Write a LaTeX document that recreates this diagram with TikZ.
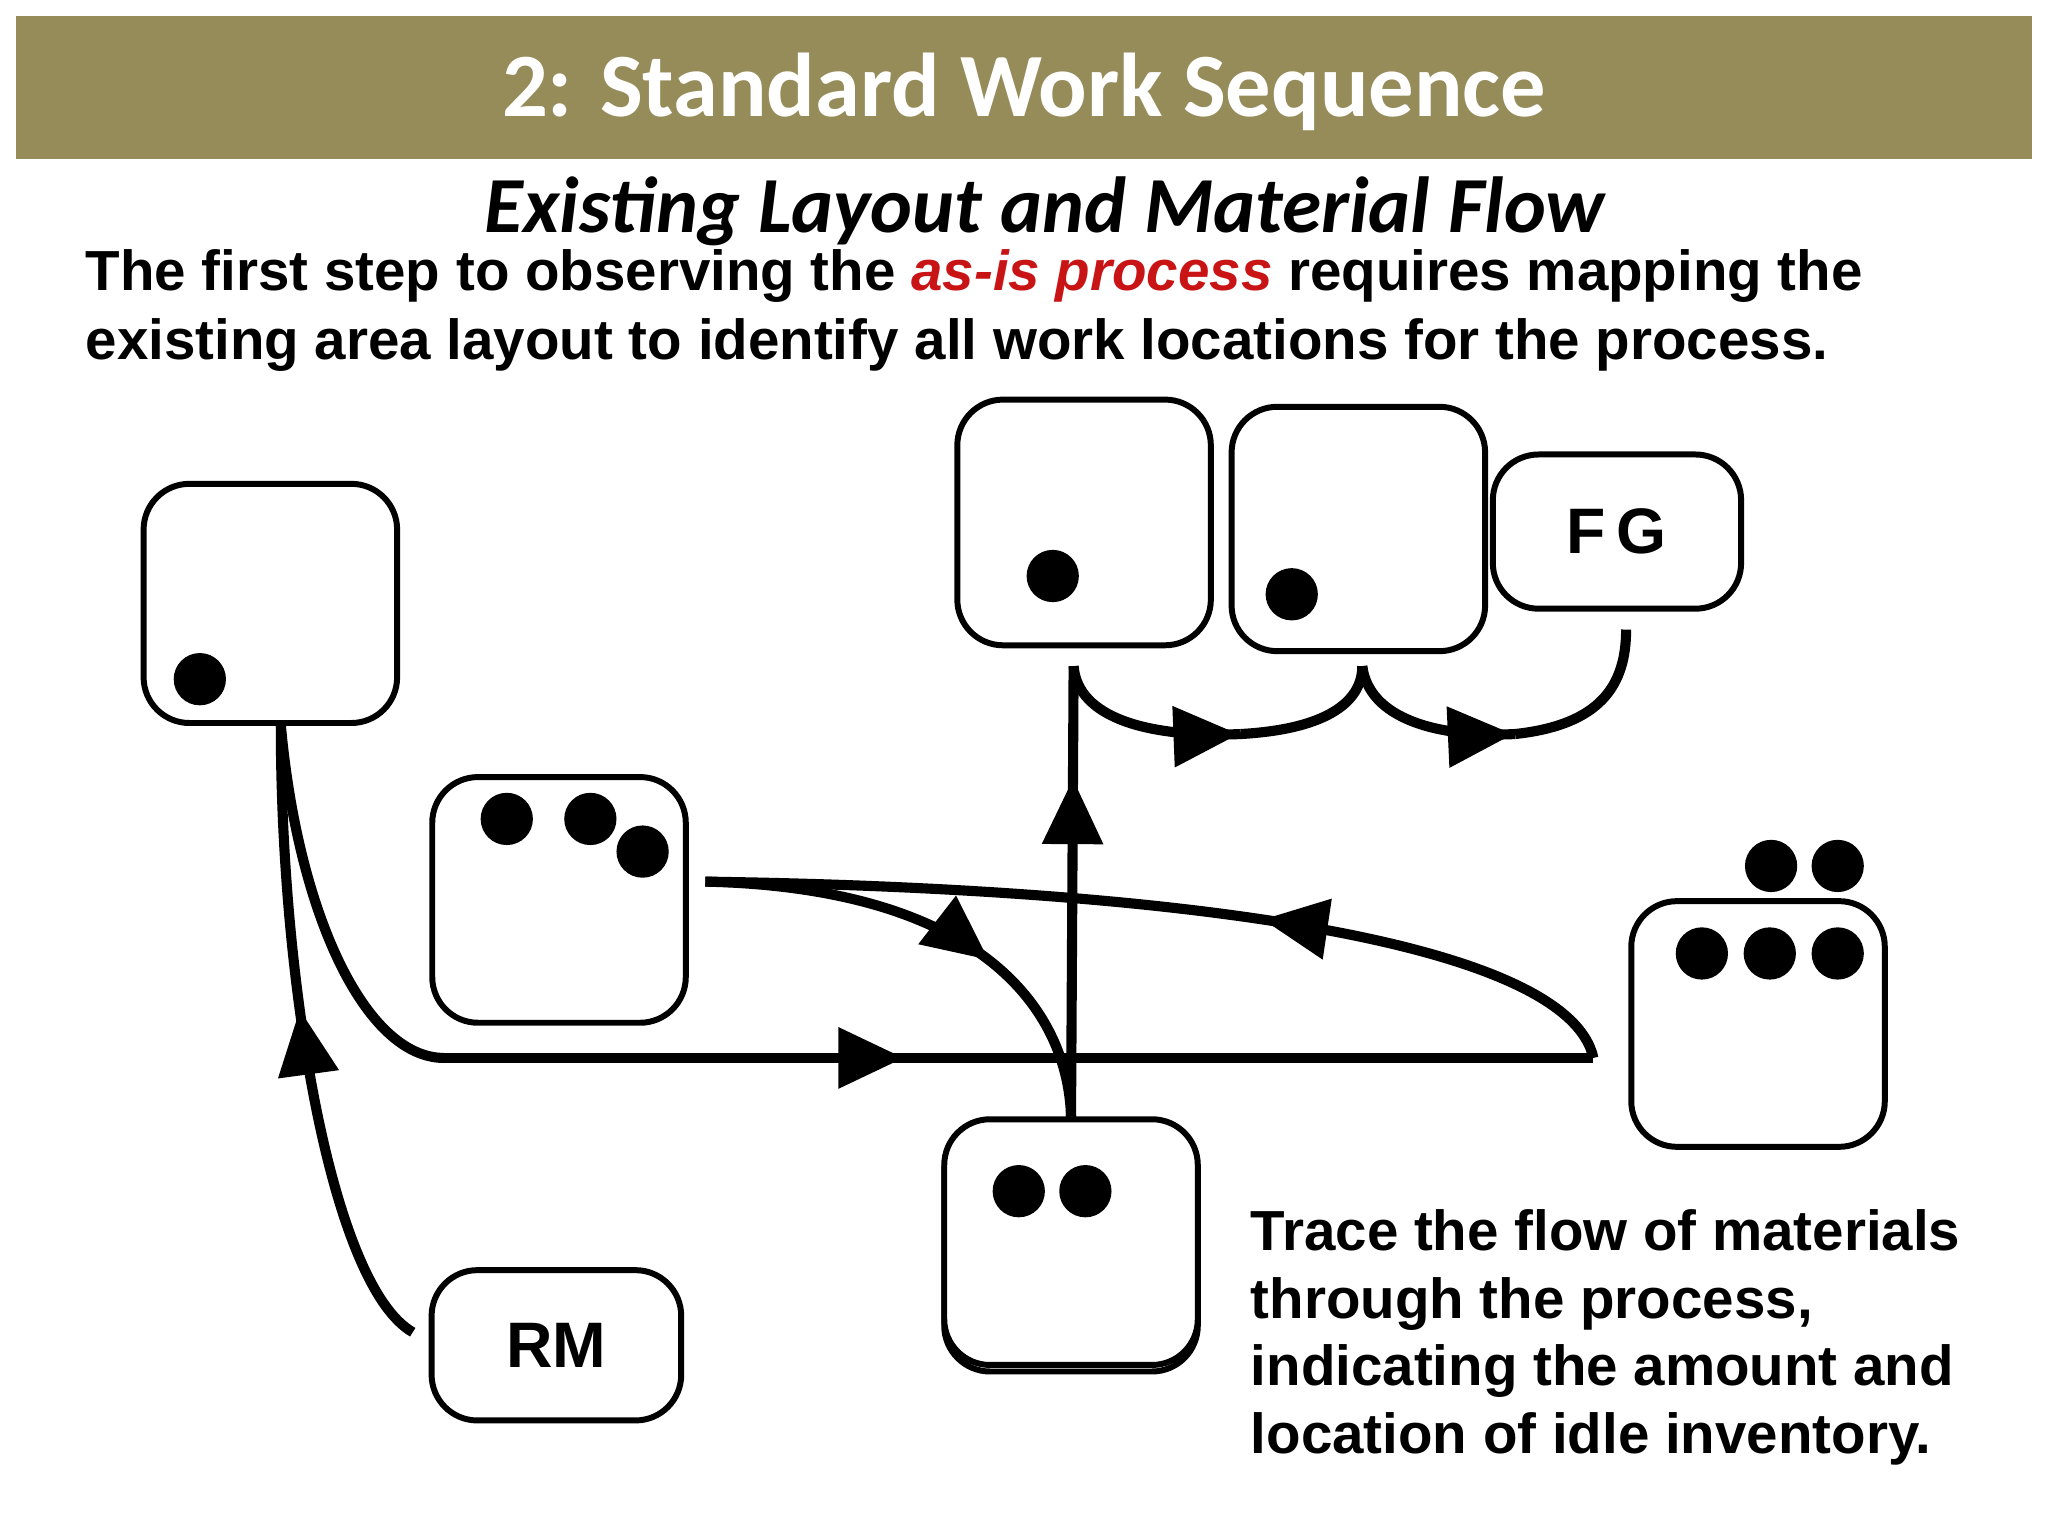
\documentclass[tikz,border=0pt]{standalone}
\usepackage{fontspec}
\setmainfont{Liberation Sans}
\newfontfamily\titlefont{Carlito}
\usetikzlibrary{arrows.meta,decorations.markings}
\definecolor{banner}{RGB}{150,140,90}
\definecolor{asred}{RGB}{200,20,20}
\begin{document}
\begin{tikzpicture}[x=0.01cm,y=-0.01cm,
  box/.style={draw,line width=1.3pt,rounded corners=0.35cm,fill=white,inner sep=0pt},
  dot/.style={circle,fill=black,minimum size=0.4cm,inner sep=0pt},
  flow/.style={line width=2.2pt},
  mk/.style={postaction={decorate,decoration={markings,
    mark=at position #1 with {\arrow{Triangle[length=0.5cm,width=0.45cm]}}}}}]
\useasboundingbox (0,0) rectangle (1568,1176);
% banner and texts
\fill[banner] (12,12) rectangle (1556,122);
\node[text=white,font=\titlefont\bfseries\fontsize{19.7}{22}\selectfont] (title) at (784,70) {2: Standard Work Sequence};
\node[font=\titlefont\bfseries\itshape\fontsize{17.3}{20}\selectfont] (sub) at (800,162) {Existing Layout and Material Flow};
\node[anchor=north west,align=left,inner sep=0pt,font=\bfseries\fontsize{12.3}{15.1}\selectfont] (intro) at (65,190)
 {The first step to observing the \textcolor{asred}{\itshape as-is process} requires mapping the\\
  existing area layout to identify all work locations for the process.};
\node[anchor=north west,align=left,inner sep=0pt,font=\bfseries\fontsize{12.3}{14.8}\selectfont] (note) at (957,925)
 {Trace the flow of materials\\through the process,\\indicating the amount and\\location of idle inventory.};
% boxes
\node[box,minimum width=1.94cm,minimum height=1.83cm] (A) at (207,462) {};
\node[box,minimum width=1.94cm,minimum height=1.88cm] (B) at (428,689) {};
\node[box,minimum width=1.94cm,minimum height=1.88cm] (C) at (830,400) {};
\node[box,minimum width=1.94cm,minimum height=1.87cm] (D) at (1040,405) {};
\node[box,minimum width=1.90cm,minimum height=1.18cm,font=\bfseries\fontsize{14}{16}\selectfont] (FG) at (1238,407) {\raisebox{-0.5ex}{F\,G}};
\node[box,minimum width=1.94cm,minimum height=1.88cm] (E) at (1346,784) {};
\node[box,minimum width=1.94cm,minimum height=1.88cm] (F2) at (820,956) {};
\node[box,minimum width=1.94cm,minimum height=1.88cm] (F) at (820,951) {};
\node[box,minimum width=1.91cm,minimum height=1.15cm,font=\bfseries\fontsize{14}{16}\selectfont] (RM) at (426,1030) {\raisebox{-0.3ex}{RM}};
% inventory dots
\node[dot] (a1) at (153,520) {};
\node[dot] (b1) at (388,627) {};
\node[dot] (b2) at (452,627) {};
\node[dot] (b3) at (492,652) {};
\node[dot] (c1) at (806,441) {};
\node[dot] (d1) at (989,455) {};
\node[dot] (e1) at (1356,663) {};
\node[dot] (e2) at (1407,663) {};
\node[dot] (e3) at (1303,730) {};
\node[dot] (e4) at (1355,730) {};
\node[dot] (e5) at (1407,730) {};
\node[dot] (f1) at (780,912) {};
\node[dot] (f2) at (831,912) {};
% flow points
\coordinate (rmL) at (316,1020);
\coordinate (aB) at (215,555);
\coordinate (L) at (340,810);
\coordinate (R) at (1220,810);
\coordinate (bR) at (540,675);
\coordinate (fT) at (820,855);
\coordinate (cB) at (822,510);
\coordinate (m1) at (950,562);
\coordinate (dB) at (1043,510);
\coordinate (m2) at (1160,562);
\coordinate (fgB) at (1245,482);
% connectors
\draw[flow,mk=0.55] (rmL) .. controls (255,985) and (215,760) .. (aB);
\draw[flow] (aB) .. controls (228,700) and (280,810) .. (L);
\draw[flow,mk=0.4] (L) -- (R);
\draw[flow,mk=0.4] (R) .. controls (1200,720) and (900,680) .. (bR);
\draw[flow,mk=0.62] (bR) .. controls (760,680) and (818,780) .. (fT);
\draw[flow,mk=0.75] (fT) -- (cB);
\draw[flow,mk=0.99] (cB) .. controls (825,550) and (880,565) .. (m1);
\draw[flow] (m1) .. controls (1020,558) and (1043,535) .. (dB);
\draw[flow,mk=0.99] (dB) .. controls (1048,550) and (1100,565) .. (m2);
\draw[flow] (m2) .. controls (1225,555) and (1245,525) .. (fgB);
\end{tikzpicture}
\end{document}
